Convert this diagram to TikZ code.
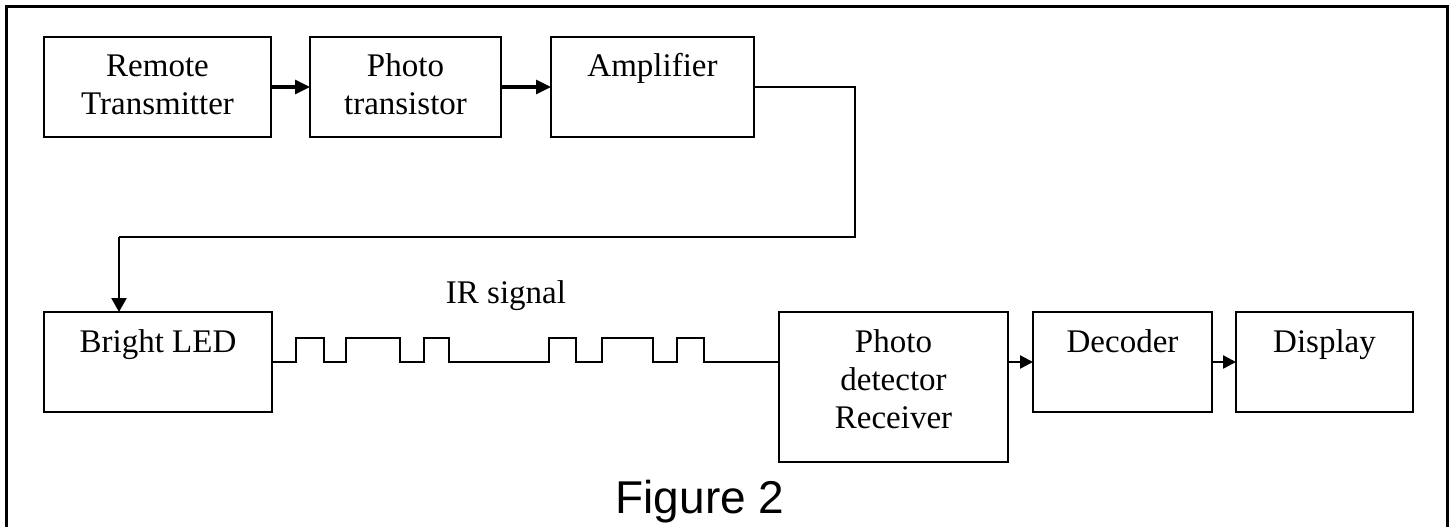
\documentclass[tikz,border=0pt]{standalone}
\usepackage{fontspec}
\setmainfont{Liberation Serif}
\newfontfamily\figfont{Liberation Sans}
\usetikzlibrary{arrows.meta}
\tikzset{
  blk/.style={draw=black, line width=1.7pt, inner sep=0pt, outer sep=0pt, anchor=north west},
  lbl/.style={inner sep=0pt, anchor=base, font=\fontsize{33}{38}\selectfont},
  bigarrow/.style={line width=3.2pt, -{Triangle[length=15pt,width=14pt]}},
  smallarrow/.style={line width=2.4pt, -{Triangle[length=13pt,width=13pt]}},
  wire/.style={line width=2.4pt},
  wave/.style={line width=1.6pt},
  frame/.style={line width=3pt}
}
\newcommand{\twoline}[2]{\begin{tabular}[t]{@{}c@{}}#1\\#2\end{tabular}}
\newcommand{\threeline}[3]{\begin{tabular}[t]{@{}c@{}}#1\\#2\\#3\end{tabular}}
\begin{document}
\begin{tikzpicture}[x=1pt,y=-1pt]
\useasboundingbox[fill=white] (0,0) rectangle (1452,527);
% outer frame (open at the bottom)
\coordinate (fbl) at (6,530);
\coordinate (ftl) at (6,7);
\coordinate (ftr) at (1447,7);
\coordinate (fbr) at (1447,530);
\draw[frame] (fbl) -- (ftl) -- (ftr) -- (fbr);

% top row boxes
\node[blk, minimum width=227pt, minimum height=100pt] (rt) at (44,37) {};
\node[blk, minimum width=191pt, minimum height=100pt] (pt) at (310,37) {};
\node[blk, minimum width=203pt, minimum height=100pt] (amp) at (551,37) {};
\node[lbl] (rtT) at ([yshift=-40pt]rt.north) {\twoline{Remote}{Transmitter}};
\node[lbl] (ptT) at ([yshift=-40pt]pt.north) {\twoline{Photo}{transistor}};
\node[lbl] (ampT) at ([yshift=-40pt]amp.north) {Amplifier};

% bottom row boxes
\node[blk, minimum width=228pt, minimum height=100pt] (bl) at (44,312) {};
\node[blk, minimum width=229pt, minimum height=150pt] (pd) at (779,312) {};
\node[blk, minimum width=179pt, minimum height=100pt] (dec) at (1033,312) {};
\node[blk, minimum width=177pt, minimum height=100pt] (disp) at (1236,312) {};
\node[lbl] (blT) at ([yshift=-40pt]bl.north) {Bright LED};
\node[lbl] (pdT) at ([yshift=-40pt]pd.north) {\threeline{Photo}{detector}{Receiver}};
\node[lbl] (decT) at ([yshift=-40pt]dec.north) {Decoder};
\node[lbl] (dispT) at ([yshift=-40pt]disp.north) {Display};

% top row arrows
\draw[bigarrow] (rt.east) -- (pt.west);
\draw[bigarrow] (pt.east) -- (amp.west);

% amplifier to bright LED
\coordinate (c1) at (855,237);
\coordinate (c2) at (119,237);
\draw[wire] (amp.east) -| (c1) -- (c2);
\draw[wire, -{Triangle[length=14pt,width=15pt]}] (c2) -- (c2 |- bl.north);

% IR signal waveform
\coordinate (w0) at (bl.east);
\coordinate (w1) at (pd.west |- bl.east);
\draw[wave] (w0) -- (296,362) -- (296,338) -- (324,338) -- (324,362)
  -- (346,362) -- (346,338) -- (400,338) -- (400,362)
  -- (424,362) -- (424,338) -- (449,338) -- (449,362)
  -- (549,362) -- (549,338) -- (576,338) -- (576,362)
  -- (602,362) -- (602,338) -- (653,338) -- (653,362)
  -- (677,362) -- (677,338) -- (704,338) -- (704,362) -- (w1);
\node[lbl] (irT) at (506,303) {IR signal};

% bottom row arrows
\draw[smallarrow] (pd.east |- dec.west) -- (dec.west);
\draw[smallarrow] (dec.east) -- (disp.west);

% caption
\node[inner sep=0pt, anchor=base, font=\figfont\fontsize{46}{50}\selectfont] (cap) at (700,513) {Figure 2};
\end{tikzpicture}
\end{document}
